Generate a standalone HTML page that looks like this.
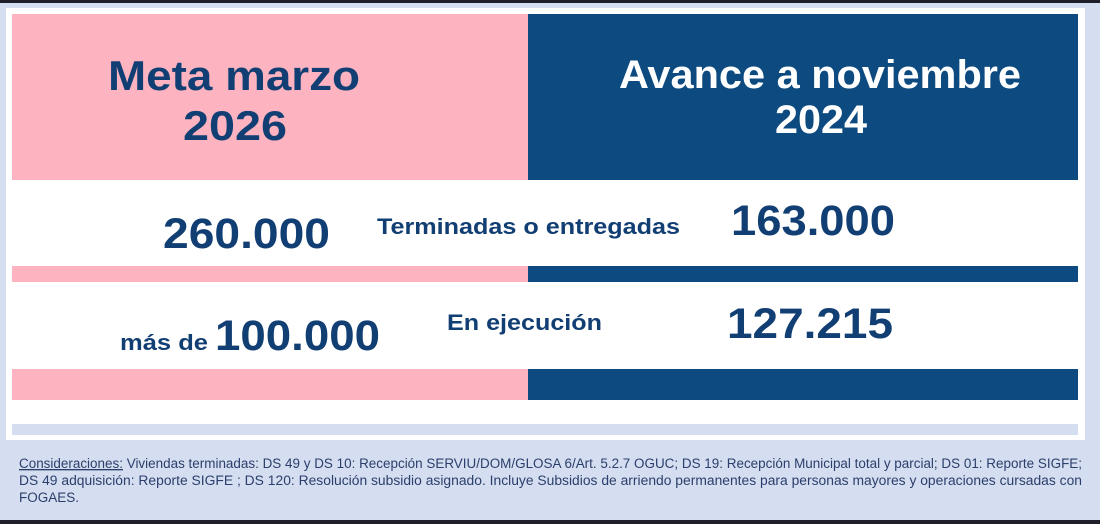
<!DOCTYPE html>
<html><head><meta charset="utf-8"><style>
html,body{margin:0;padding:0;width:1100px;height:524px;overflow:hidden;background:#d5ddf0}
svg{display:block}
</style></head><body>
<svg width="1100" height="524" viewBox="0 0 1100 524" xmlns="http://www.w3.org/2000/svg" font-family="Liberation Sans, sans-serif">
<rect x="0" y="0" width="1100" height="524" fill="#d5ddf0"/>
<rect x="0" y="0" width="1100" height="3" fill="#1e1f2b"/>
<rect x="0" y="520" width="1100" height="4" fill="#1e1f2b"/>
<rect x="6" y="8" width="1079" height="432" fill="#ffffff"/>
<rect x="12" y="14" width="516" height="166" fill="#fdb4c0"/>
<rect x="528" y="14" width="550" height="166" fill="#0c4a80"/>
<rect x="12" y="266" width="516" height="16" fill="#fdb4c0"/>
<rect x="528" y="266" width="550" height="16" fill="#0c4a80"/>
<rect x="12" y="369" width="516" height="31" fill="#fdb4c0"/>
<rect x="528" y="369" width="550" height="31" fill="#0c4a80"/>
<rect x="12" y="424" width="1066" height="11" fill="#d5ddf0"/>
<g font-weight="bold" fill="#123f73">
<text x="108" y="90" font-size="42" textLength="252" lengthAdjust="spacingAndGlyphs">Meta marzo</text>
<text x="183" y="140" font-size="42" textLength="104" lengthAdjust="spacingAndGlyphs">2026</text>
<text x="163" y="248" font-size="43" textLength="167" lengthAdjust="spacingAndGlyphs">260.000</text>
<text x="377" y="234" font-size="22" textLength="303" lengthAdjust="spacingAndGlyphs">Terminadas o entregadas</text>
<text x="731" y="235" font-size="43" textLength="164" lengthAdjust="spacingAndGlyphs">163.000</text>
<text x="120" y="350" font-size="22" textLength="88" lengthAdjust="spacingAndGlyphs">más de</text>
<text x="215" y="350" font-size="43" textLength="165" lengthAdjust="spacingAndGlyphs">100.000</text>
<text x="447" y="330" font-size="22" textLength="155" lengthAdjust="spacingAndGlyphs">En ejecución</text>
<text x="727" y="338" font-size="43" textLength="166" lengthAdjust="spacingAndGlyphs">127.215</text>
</g>
<g font-weight="bold" fill="#ffffff">
<text x="619" y="88" font-size="40" textLength="402" lengthAdjust="spacingAndGlyphs">Avance a noviembre</text>
<text x="775" y="133" font-size="40" textLength="92" lengthAdjust="spacingAndGlyphs">2024</text>
</g>
<g fill="#2a3f6b" font-size="13.5">
<text x="19" y="468" textLength="1063" lengthAdjust="spacingAndGlyphs"><tspan text-decoration="underline">Consideraciones:</tspan> Viviendas terminadas: DS 49 y DS 10: Recepción SERVIU/DOM/GLOSA 6/Art. 5.2.7 OGUC; DS 19: Recepción Municipal total y parcial; DS 01: Reporte SIGFE;</text>
<text x="19" y="485" textLength="1063" lengthAdjust="spacingAndGlyphs">DS 49 adquisición: Reporte SIGFE ; DS 120: Resolución subsidio asignado. Incluye Subsidios de arriendo permanentes para personas mayores y operaciones cursadas con</text>
<text x="19" y="502">FOGAES.</text>
</g>
</svg>
</body></html>
